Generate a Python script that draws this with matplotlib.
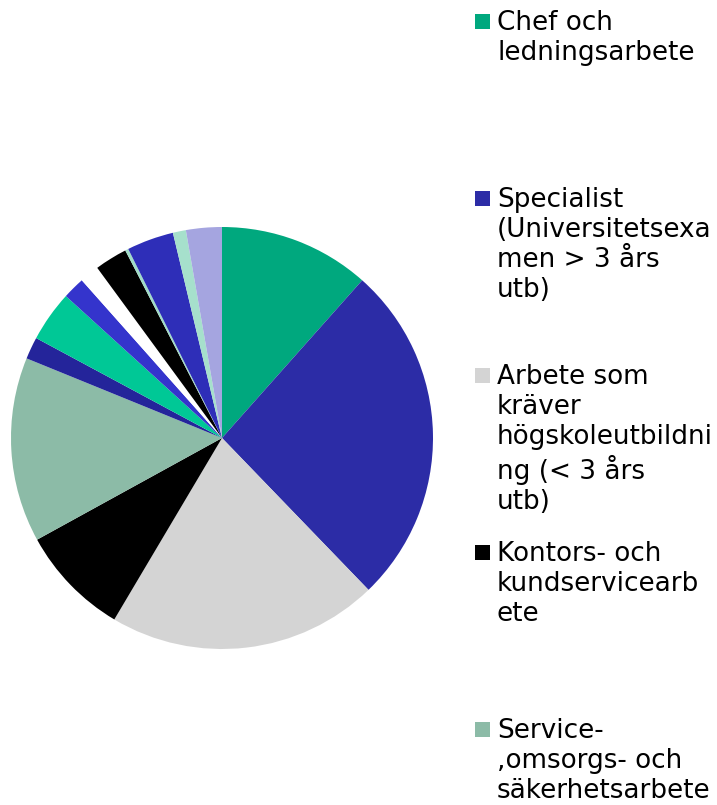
import matplotlib.pyplot as plt
from matplotlib.patches import Rectangle

# andelar (%) medurs från kl 12
andelar = [11.6, 26.3, 20.8, 8.5, 14.2, 1.7, 3.9, 1.7, 1.5, 2.5, 0.25, 3.6, 1.0, 2.75]
farger = ['#00A87E', '#2C2CA6', '#D4D4D4', '#000000', '#8CBBA7', '#24249A',
          '#00C896', '#3434CC', '#FFFFFF', '#000000', '#A0DCC8', '#2E2EB8',
          '#A6E0CC', '#A5A5E0']

# synliga förklaringar (resten hamnar utanför bilden)
etiketter = [
    'Chef och\nledningsarbete',
    'Specialist\n(Universitetsexa\nmen > 3 års\nutb)',
    'Arbete som\nkräver\nhögskoleutbildni\nng (< 3 års\nutb)',
    'Kontors- och\nkundservicearb\nete',
    'Service-\n,omsorgs- och\nsäkerhetsarbete',
]

W, H = 717, 805
fig = plt.figure(figsize=(W / 100, H / 100), dpi=100)

# pajen: centrum (222, 438) px, radie 211 px
cx, cy, r = 222, 438, 211
ax = fig.add_axes([(cx - r) / W, (H - cy - r) / H, 2 * r / W, 2 * r / H])
ax.pie(andelar, colors=farger, startangle=90, counterclock=False,
       radius=1, wedgeprops=dict(linewidth=0))
ax.set_xlim(-1, 1)
ax.set_ylim(-1, 1)
ax.set_aspect('equal')
ax.axis('off')

# förklaring med fast radavstånd
for i, lab in enumerate(etiketter):
    base = 34 + 177 * i
    fig.text(497 / W, 1 - (base - 24) / H, lab, fontsize=18.9, va='top',
             ha='left', linespacing=1.2, family='DejaVu Sans')
    fig.patches.append(Rectangle((475 / W, 1 - (base - 5) / H), 15 / W, 15 / H,
                                 transform=fig.transFigure,
                                 facecolor=farger[i], edgecolor='none'))

fig.savefig('out.png', dpi=100)
